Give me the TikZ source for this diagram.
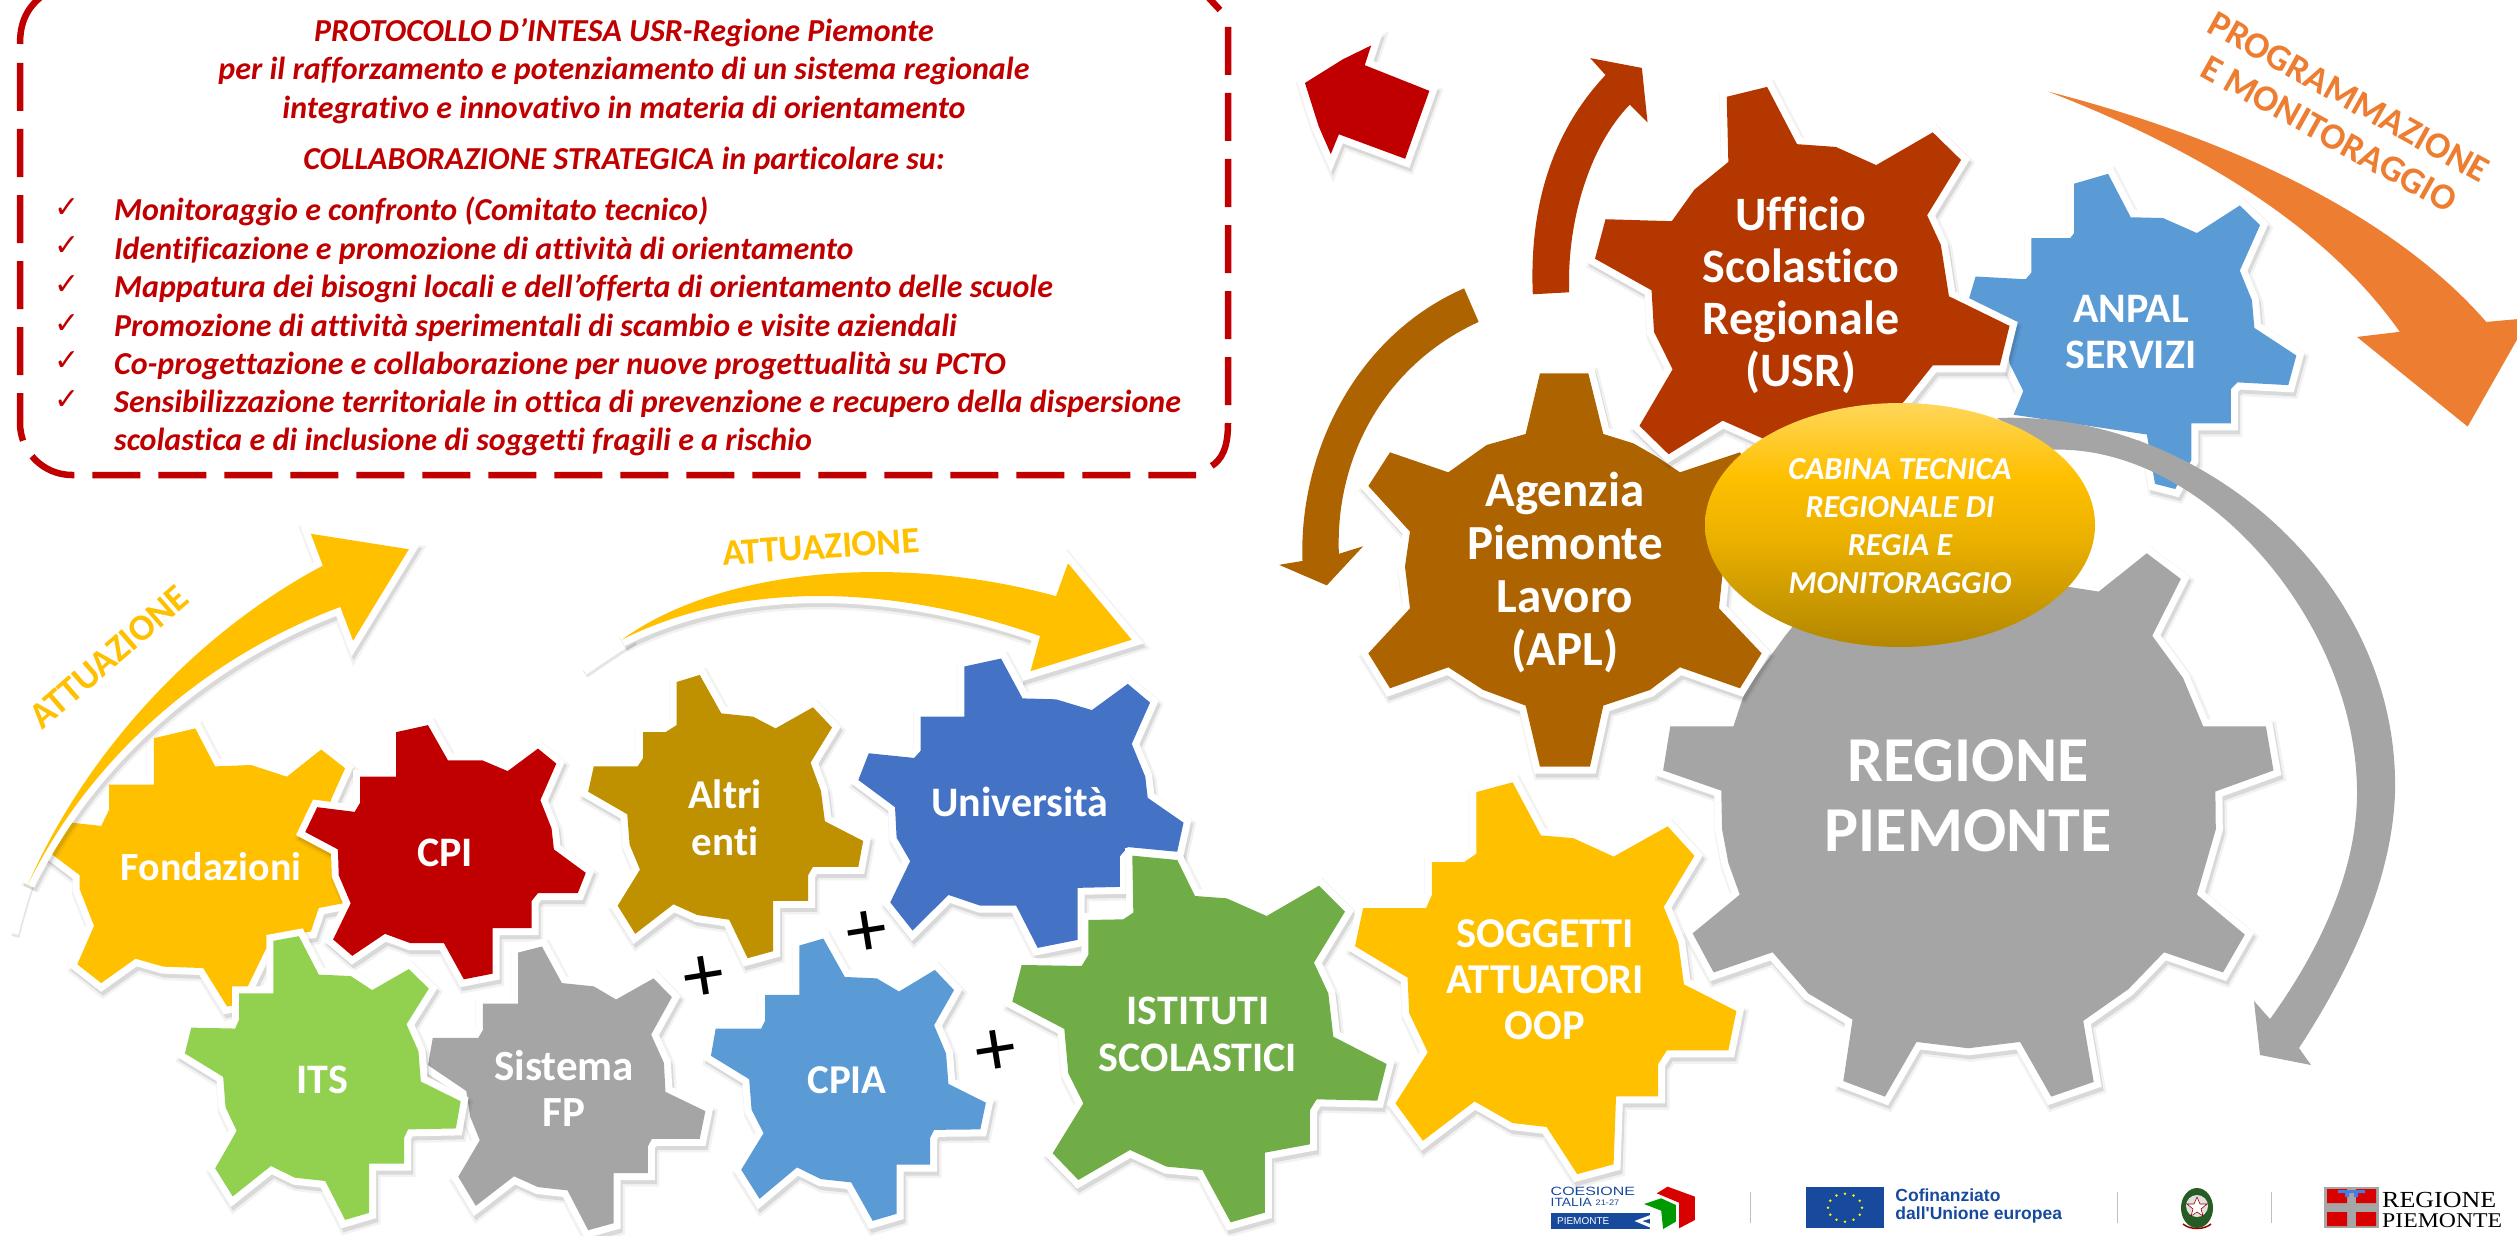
\documentclass[tikz,border=0pt]{standalone}
\usepackage{fontspec}
\setmainfont{Carlito}[Ligatures=CommonOff]
\newfontfamily\dejavu{DejaVu Sans}
\newfontfamily\libsans{Liberation Sans}
\newfontfamily\libserif{Liberation Serif}
\definecolor{cred}{HTML}{C00000}
\definecolor{cyel}{HTML}{FFC000}
\definecolor{cusr}{HTML}{B43700}
\definecolor{capl}{HTML}{AD6400}
\definecolor{cgry}{HTML}{A5A5A5}
\definecolor{cblu}{HTML}{5B9BD5}
\definecolor{cuni}{HTML}{4472C4}
\definecolor{cgrn}{HTML}{70AD47}
\definecolor{clim}{HTML}{92D050}
\definecolor{cold}{HTML}{BF9000}
\definecolor{cora}{HTML}{ED7D31}
\definecolor{ceu}{HTML}{174A9C}
\pgfdeclareverticalshading{ellshade}{100bp}{
 color(0bp)=(cyel!70!black); color(25bp)=(cyel!70!black);
 color(47bp)=(cyel!92!black); color(60bp)=(cyel); color(75bp)=(cyel!65!white); color(100bp)=(cyel!65!white)}
\tikzset{
 zB/.style={x=0.808pt,y=-0.395pt,shift={(1250pt,0pt)}},
 zC/.style={x=0.797pt,y=-0.469pt,shift={(0pt,-500pt)}},
 zD/.style={x=0.808pt,y=-0.393pt,shift={(1250pt,-620pt)}},
 zE/.style={x=0.636pt,y=-0.3333pt,shift={(1520pt,-1160pt)}},
 zF/.style={x=0.3333pt,y=-0.3333pt,shift={(1000pt,-840pt)}},
 zG/.style={x=0.3333pt,y=-0.3333pt,shift={(1340pt,-360pt)}},
 zH/.style={x=0.4209pt,y=-0.4209pt,shift={(1640pt,-560pt)}},
 gtext/.style={anchor=base,text=white,inner sep=0pt,font=\bfseries},
 redline/.style={anchor=base,text=cred,inner sep=0pt,font=\fontsize{32}{36}\selectfont\bfseries\itshape},
 reditem/.style={redline,anchor=base west},
 chk/.style={anchor=base west,text=cred,inner sep=0pt,font=\dejavu\fontsize{30}{30}\selectfont},
 plussign/.style={inner sep=0pt,text=black,font=\fontsize{82}{84}\selectfont,rotate=9},
 arrowtext/.style={inner sep=0pt,font=\fontsize{37}{40}\selectfont\bfseries},
 dashbox/.style={cred,line width=6.5pt,dash pattern=on 48pt off 18pt},
 logotext/.style={anchor=base west,inner sep=0pt}
}
% colour, path
\newcommand\outl[2]{%
 \path[draw=black,opacity=.05,line width=19pt,line join=miter,miter limit=3,shift={(2pt,-4pt)}] #2;
 \path[draw=black,opacity=.10,line width=14pt,line join=miter,miter limit=3,shift={(2pt,-4pt)}] #2;
 \path[draw=white,fill=white,line width=14pt,line join=miter,miter limit=3] #2;
 \path[fill=#1] #2;}
\newcommand\cog[2]{\outl{#1}{plot coordinates {#2} -- cycle}}
\newcommand\gl[6]{\node[gtext,yshift=-3pt] (#1) at (#2pt,-#3pt) {\fontsize{#4}{#5}\selectfont\begin{tabular}[t]{@{}c@{}}#6\end{tabular}};}
\newcommand\tailw[1]{%
 \path[draw=black!10,line width=8pt,shift={(1pt,-3pt)}] #1;
 \path[draw=white,line width=8pt] #1;}
\begin{document}
\begin{tikzpicture}[x=1pt,y=-1pt]
\useasboundingbox (0,0) rectangle (2517,1236);
\clip (0,0) rectangle (2517,1236);
% dashed box
\draw[dashbox,rounded corners=52pt] (20,63) -- (20,475) -- (1196,475);
\draw[dashbox] (1228,27) -- (1228,423) .. controls (1228,448) and (1222,460) .. (1210,467);
\draw[cred,line width=6.5pt] (20,44) .. controls (20,22) and (27,8) .. (42,-4);
\draw[cred,line width=6.5pt] (1207,-4) -- (1220,10);
% red text
\node[redline] (t1) at (624,41.6) {PROTOCOLLO D’INTESA USR-Regione Piemonte};
\node[redline] (t2) at (624,80) {per il rafforzamento e potenziamento di un sistema regionale};
\node[redline] (t3) at (624,119) {integrativo e innovativo in materia di orientamento};
\node[redline] (t4) at (624,170) {COLLABORAZIONE STRATEGICA in particolare su:};
\node[reditem] (i1) at (114,220.5) {Monitoraggio e confronto (Comitato tecnico)};
\node[reditem] (i2) at (114,259) {Identificazione e promozione di attività di orientamento};
\node[reditem] (i3) at (114,297.5) {Mappatura dei bisogni locali e dell’offerta di orientamento delle scuole};
\node[reditem] (i4) at (114,336) {Promozione di attività sperimentali di scambio e visite aziendali};
\node[reditem] (i5) at (114,374) {Co-progettazione e collaborazione per nuove progettualità su PCTO};
\node[reditem] (i6) at (114,412) {Sensibilizzazione territoriale in ottica di prevenzione e recupero della dispersione};
\node[reditem] (i7) at (114,450) {scolastica e di inclusione di soggetti fragili e a rischio};
\foreach \yy/\nn in {217/a,255/b,294/c,333/d,370/e,409/f}
 \node[chk] (chk\nn) at (54,\yy) {✓};
% arrows top right
\begin{scope}[zB]
\path[fill=cora] (988,232) .. controls (1250,370) and (1430,580) .. (1530,815) -- (1568,808) -- (1568,860) -- (1507,1080) -- (1370,853) -- (1423,840) .. controls (1340,600) and (1200,400) .. (988,232) -- cycle;
\outl{cred}{(150,115) -- (142,165) -- (222,230) -- (192,402) -- (110,340) -- (100,390) -- (85,320) -- (68,210) -- (115,150) -- cycle}
\path[fill=cusr] (350,745) .. controls (345,500) and (380,320) .. (440,190) -- (421,147) -- (485,172) -- (492,310) -- (470,265) .. controls (420,370) and (392,560) .. (395,740) -- cycle;
\path[fill=capl] (265,730) .. controls (130,850) and (60,1150) .. (65,1420) -- (36,1430) -- (95,1482) -- (140,1383) -- (110,1402) .. controls (105,1150) and (170,920) .. (283,815) -- cycle;
\end{scope}
\node[arrowtext,text=cora,rotate=-29] (prog) at (2349,97) {PROGRAMMAZIONE};
\node[arrowtext,text=cora,rotate=-29] (mon) at (2329,134) {E MONITORAGGIO};
% yellow arrows
\begin{scope}[zC]
\cog{cyel}{(193,508) (245,487) (270,568) (315,565) (360,590) (403,532) (433,572) (415,640) (430,860) (400,870) (390,920) (340,935) (300,1075) (285,1080) (255,998) (205,995) (170,978) (127,1030) (97,990) (118,908) (100,830) (100,800) (65,755) (90,688) (127,695) (137,660) (137,607) (193,607)}
\tailw{(18,925) .. controls (24,885) and (30,850) .. (40,800)}
\outl{cyel}{(35,820) .. controls (110,530) and (250,280) .. (405,140) -- (390,72) -- (513,105) -- (443,300) -- (427,228) .. controls (250,340) and (110,560) .. (35,820) -- cycle}
\tailw{(733,365) .. controls (750,345) and (770,322) .. (795,295)}
\outl{cyel}{(780,298) .. controls (900,150) and (1120,110) .. (1325,205) -- (1340,135) -- (1420,298) -- (1293,365) -- (1305,290) .. controls (1120,180) and (930,170) .. (780,298) -- cycle}
\cog{cred}{(497,495) (537,480) (562,555) (605,555) (637,578) (675,530) (698,562) (678,640) (692,700) (695,745) (735,795) (725,838) (675,838) (667,855) (667,913) (618,913) (618,1010) (582,1022) (557,945) (515,945) (483,925) (442,972) (418,937) (440,860) (425,800) (424,745) (383,708) (398,655) (445,665) (452,645) (452,590) (497,590)}
\cog{cold}{(849,388) (878,373) (905,455) (945,462) (973,487) (1020,442) (1044,485) (1017,560) (1030,620) (1035,685) (1083,727) (1077,782) (1020,782) (1014,800) (1014,855) (970,855) (970,962) (938,977) (915,895) (875,885) (845,862) (797,925) (775,865) (803,788) (790,735) (787,670) (738,622) (745,568) (800,568) (807,550) (807,495) (835,495) (849,480)}
\cog{cuni}{(1210,355) (1256,338) (1283,423) (1325,425) (1370,448) (1415,392) (1443,432) (1420,520) (1437,590) (1440,635) (1485,688) (1477,750) (1415,740) (1405,760) (1405,825) (1352,827) (1352,938) (1302,955) (1275,865) (1230,865) (1190,842) (1145,918) (1117,858) (1142,770) (1125,720) (1123,655) (1077,597) (1090,540) (1147,550) (1155,535) (1155,462) (1210,462)}
\cog{cgry}{(650,965) (680,952) (705,1030) (745,1037) (773,1065) (820,1020) (843,1060) (817,1140) (833,1200) (835,1262) (885,1303) (878,1362) (818,1362) (813,1378) (813,1435) (770,1435) (770,1542) (738,1557) (712,1472) (675,1465) (645,1442) (597,1505) (575,1443) (602,1365) (590,1315) (585,1260) (537,1205) (543,1147) (600,1147) (606,1130) (606,1074) (650,1074)}
\cog{clim}{(343,940) (375,930) (400,1012) (440,1015) (467,1045) (513,1000) (538,1042) (510,1118) (525,1175) (528,1240) (578,1282) (572,1340) (512,1342) (507,1360) (507,1415) (463,1415) (463,1520) (433,1535) (408,1452) (370,1445) (340,1420) (292,1485) (270,1425) (297,1345) (283,1295) (280,1230) (232,1180) (240,1125) (295,1127) (300,1108) (300,1052) (343,1052)}
\cog{cblu}{(1003,950) (1033,935) (1060,1017) (1100,1020) (1128,1048) (1173,1002) (1197,1045) (1172,1120) (1187,1180) (1190,1245) (1237,1285) (1230,1342) (1172,1343) (1167,1360) (1167,1417) (1125,1417) (1125,1522) (1095,1537) (1068,1455) (1030,1448) (1000,1423) (953,1490) (930,1428) (958,1350) (943,1300) (940,1235) (892,1185) (898,1127) (955,1127) (960,1110) (960,1055) (1003,1055)}
\end{scope}
\node[arrowtext,text=cyel,rotate=41] (att1) at (109,657) {ATTUAZIONE};
\node[arrowtext,text=cyel,rotate=3.7] (att2) at (821,547) {ATTUAZIONE};
% Istituti
\begin{scope}[zF]
\cog{cgrn}{(397,47) (532,60) (585,168) (680,175) (800,228) (957,137) (1035,215) (942,368) (985,460) (1000,590) (1160,672) (1132,782) (950,778) (930,810) (930,913) (795,938) (795,1118) (692,1147) (607,990) (500,980) (390,930) (235,1020) (158,940) (250,790) (205,700) (193,567) (37,485) (65,375) (245,378) (265,345) (265,240) (370,238) (400,218)}
\end{scope}
% Regione, Anpal, Agenzia, USR
\begin{scope}[zB]
\cog{cblu}{(1020,465) (1062,440) (1090,550) (1130,552) (1172,590) (1225,520) (1250,570) (1225,685) (1240,760) (1243,830) (1295,900) (1285,975) (1222,968) (1214,985) (1214,1072) (1165,1072) (1165,1165) (1145,1238) (1120,1225) (1110,1100) (945,1050) (957,990) (940,920) (935,830) (890,755) (898,700) (960,707) (967,690) (967,603) (1015,603) (1020,590)}
\end{scope}
\begin{scope}[zH]
\cog{cgry}{(1090,75) (1204,-16) (1285,45) (1217,180) (1290,280) (1338,395) (1487,395) (1505,500) (1367,550) (1368,640) (1345,720) (1323,795) (1437,890) (1385,980) (1245,932) (1160,1020) (1053,1095) (1078,1240) (977,1275) (903,1145) (780,1160) (657,1145) (582,1275) (483,1238) (505,1092) (400,1030) (315,932) (175,980) (125,887) (237,795) (210,720) (195,640) (193,548) (55,500) (72,395) (222,395) (250,310) (345,180) (450,50) (800,30)}
\end{scope}
\begin{scope}[zG]
\cog{capl}{(600,40) (745,40) (790,222) (880,250) (950,290) (1020,337) (1200,277) (1265,378) (1137,515) (1150,620) (1137,745) (1265,880) (1200,985) (1020,922) (930,990) (790,1037) (750,1220) (600,1220) (557,1037) (430,990) (325,922) (150,985) (85,880) (210,745) (195,620) (210,515) (85,378) (150,277) (325,337) (440,255) (557,222)}
\end{scope}
\begin{scope}[zB]
\cog{cusr}{(590,245) (640,220) (677,365) (725,372) (775,418) (845,335) (880,405) (838,545) (855,620) (865,750) (940,825) (928,925) (845,925) (810,1015) (770,1100) (700,1120) (640,1115) (585,1065) (518,1150) (482,1078) (523,935) (500,840) (497,735) (427,655) (440,555) (522,560) (550,480) (592,410)}
\end{scope}
% Soggetti
\begin{scope}[zD]
\cog{cyel}{(280,438) (325,413) (360,548) (400,555) (450,602) (517,525) (550,600) (512,730) (530,820) (537,927) (602,995) (592,1095) (516,1095) (505,1130) (505,1212) (453,1212) (450,1385) (405,1410) (367,1290) (325,1280) (278,1225) (214,1325) (180,1230) (220,1100) (197,1000) (195,910) (130,830) (140,733) (218,733) (225,700) (225,616) (265,616) (280,595)}
\end{scope}
% grey arrow
\path[fill=cgry] (1997,418) .. controls (2200,410) and (2400,580) .. (2395,793) .. controls (2392,880) and (2350,970) .. (2299,1048) -- (2311,1065) -- (2260,1055) -- (2254,1001) -- (2270,1019) .. controls (2320,950) and (2357,870) .. (2357,793) .. controls (2357,620) and (2200,440) .. (2046,450) -- cycle;
% ellipse
\path[shading=ellshade] (1900,525) ellipse [x radius=195,y radius=122];
% labels
\gl{lfond}{211}{877}{40}{44}{Fondazioni}
\gl{lcpi}{445}{863}{42}{44}{CPI}
\gl{lalt}{725}{805}{41}{47}{Altri\\enti}
\gl{luni}{1020}{813}{42}{44}{Università}
\gl{lits}{322}{1090}{42}{44}{ITS}
\gl{lsis}{564}{1077}{43}{46}{Sistema\\FP}
\gl{lcpia}{847}{1090}{41}{44}{CPIA}
\gl{list}{1198}{1021}{42}{47}{ISTITUTI\\SCOLASTICI}
\gl{lsog}{1545}{944}{42.5}{46.3}{SOGGETTI\\ATTUATORI\\OOP}
\gl{lanp}{2131}{319}{42}{46}{ANPAL\\SERVIZI}
\gl{lusr}{1801}{227}{48}{52}{Ufficio\\Scolastico\\Regionale\\(USR)}
\gl{lapl}{1565}{503}{49}{53.3}{Agenzia\\Piemonte\\Lavoro\\(APL)}
\gl{lreg}{1968}{778}{64}{70}{REGIONE\\PIEMONTE}
\node[gtext,font=\fontsize{32}{38}\selectfont\bfseries\itshape] (lcab) at (1900,479) {\begin{tabular}[t]{@{}c@{}}CABINA TECNICA\\REGIONALE DI\\REGIA E\\MONITORAGGIO\end{tabular}};
% plus signs
\begin{scope}[zC]
\node[plussign] (p1) at (1088,925) {+};
\node[plussign] (p2) at (883,1022) {+};
\node[plussign] (p3) at (1250,1180) {+};
\end{scope}
% logos
\begin{scope}[zE]
\draw[black!25,line width=1pt] (362,95) -- (362,190) (940,95) -- (940,190) (1181,95) -- (1181,190);
\node[logotext,text=ceu,font=\libsans\fontsize{12}{12}\selectfont] (c1) at (48,105) {\scalebox{1.33}[1]{COESIONE}};
\node[logotext,text=ceu,font=\libsans\fontsize{12}{12}\selectfont] (c2) at (48,140) {\scalebox{1.15}[1]{ITALIA \raisebox{1.5pt}{\fontsize{8}{8}\selectfont 21-27}}};
\fill[ceu] (48,160) rectangle (205,207);
\node[logotext,text=white,font=\libsans\fontsize{10}{10}\selectfont] (c3) at (58,192) {PIEMONTE};
\fill[white] (180,183) -- (205,165) -- (205,176) -- (192,183) -- (205,192) -- (205,203) -- cycle;
\fill[red!85!black] (215,100) -- (232,80) -- (275,110) -- (275,180) -- (250,205) -- (250,128) -- cycle;
\fill[green!60!black] (195,132) -- (222,115) -- (245,135) -- (245,185) -- (225,207) -- (222,152) -- cycle;
\fill[ceu] (450,80) rectangle (573,205);
\foreach \a in {0,30,...,330} \fill[yellow] (511,143) ++(\a:17pt and 14pt) circle [radius=1.4pt];
\node[logotext,text=ceu,font=\libsans\bfseries\fontsize{17.5}{18}\selectfont] (e1) at (590,125) {Cofinanziato};
\node[logotext,text=ceu,font=\libsans\bfseries\fontsize{17.5}{18}\selectfont] (e2) at (590,178) {dall'Unione europea};
\end{scope}
% emblem
\fill[green!30!black!70!gray] (2197,1208) ellipse [x radius=16,y radius=20];
\fill[black!12] (2197,1206) circle [radius=11];
\fill[white,draw=red!60!black,line width=.6pt] (2197,1197) -- (2200,1204) -- (2207,1204) -- (2201,1209) -- (2203,1216) -- (2197,1212) -- (2191,1216) -- (2193,1209) -- (2187,1204) -- (2194,1204) -- cycle;
\draw[red!60!black,line width=1.5pt] (2183,1224) .. controls (2190,1230) and (2204,1230) .. (2211,1224);
% Regione logo
\fill[black!35] (2324,1187) rectangle (2379,1228);
\fill[red!85!black] (2327,1189) rectangle (2347,1203) (2356,1189) rectangle (2376,1203) (2327,1212) rectangle (2347,1226) (2356,1212) rectangle (2376,1226);
\fill[cblu!80!blue] (2338,1190) rectangle (2365,1193) (2345,1193) rectangle (2349,1197) (2354,1193) rectangle (2358,1197);
\node[logotext,font=\libserif\fontsize{23}{23}\selectfont] (r1) at (2382,1207) {\scalebox{1.13}[1]{REGIONE}};
\node[logotext,font=\libserif\fontsize{21}{22}\selectfont] (r2) at (2382,1227) {\scalebox{1.13}[1]{PIEMONTE}};
\end{tikzpicture}
\end{document}
